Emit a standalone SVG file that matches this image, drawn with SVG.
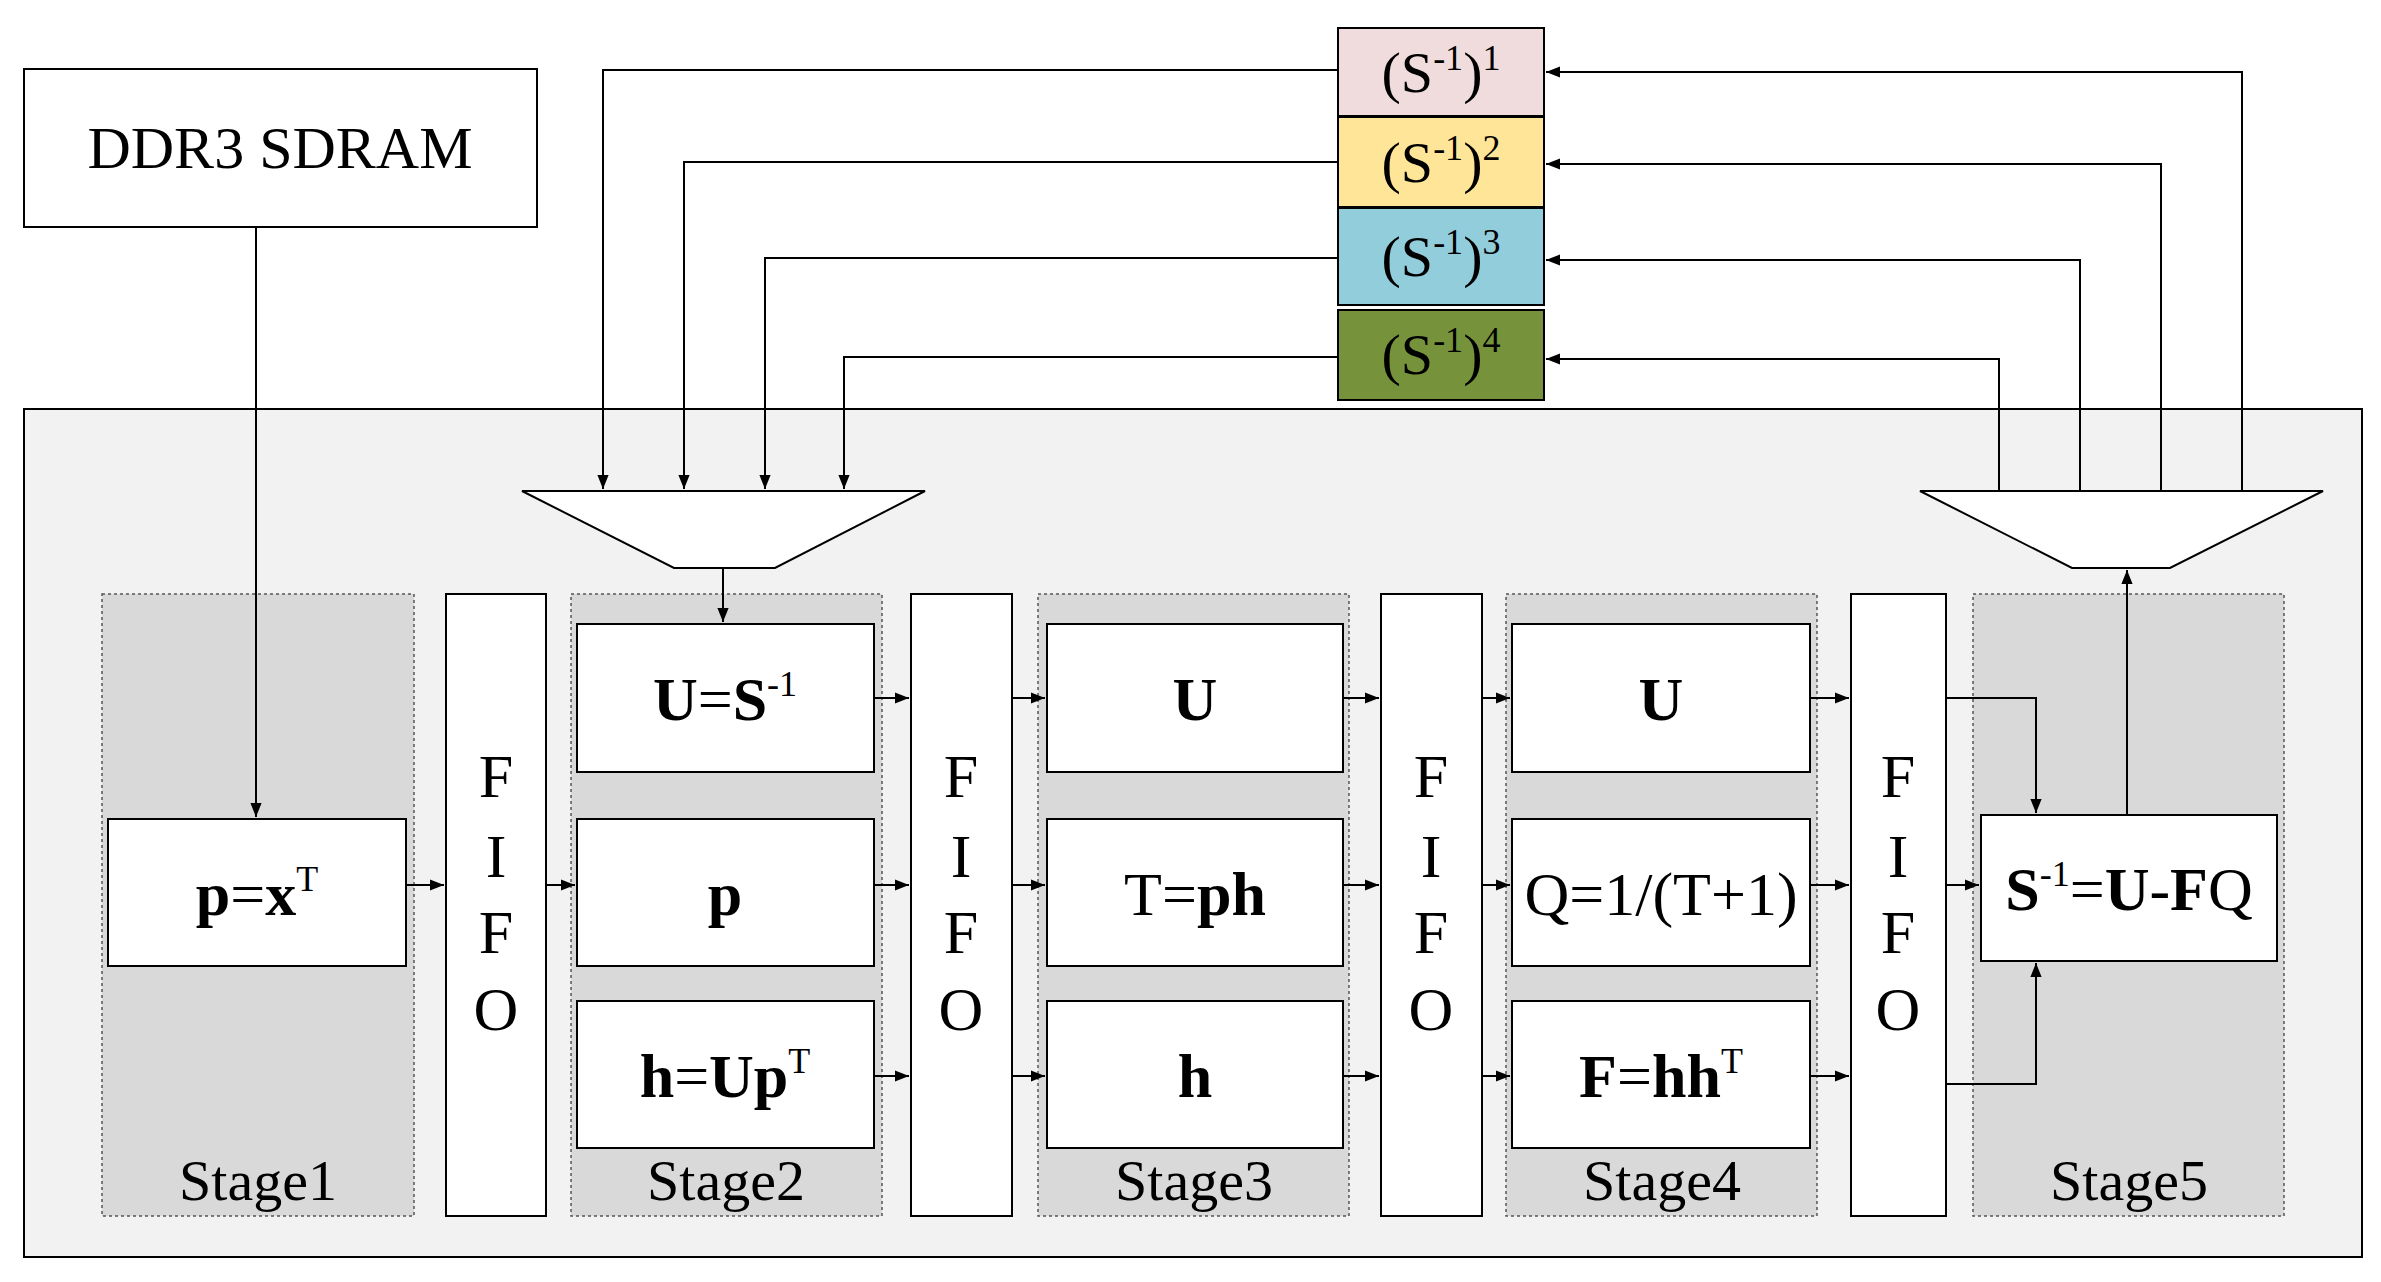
<svg xmlns="http://www.w3.org/2000/svg" width="2381" height="1282" viewBox="0 0 2381 1282">
<defs>
<marker id="a" viewBox="0 0 10 10" refX="10" refY="5" markerWidth="9" markerHeight="9" markerUnits="userSpaceOnUse" orient="auto"><path d="M0,0L10,5L0,10z" fill="#000"/></marker>
<marker id="b" viewBox="0 0 10 10" refX="10" refY="5" markerWidth="14" markerHeight="14" markerUnits="userSpaceOnUse" orient="auto"><path d="M0,1L10,5L0,9z" fill="#000"/></marker>
</defs>
<style>
text{font-family:"Liberation Serif","DejaVu Serif",serif;fill:#000;text-anchor:middle}
.box{fill:#fff;stroke:#000;stroke-width:2}
.stg{fill:#d9d9d9;stroke:#555;stroke-width:1.5;stroke-dasharray:3 3}
.t{font-size:62px}
.b{font-weight:bold}
.c line,.c path{stroke:#000;stroke-width:2;fill:none;marker-end:url(#b)}
</style>
<rect width="2381" height="1282" fill="#fff"/>
<rect x="24" y="409" width="2338" height="848" fill="#f2f2f2" stroke="#000" stroke-width="2"/>
<g id="ddr3"><rect class="box" x="24" y="69" width="513" height="158"/><text x="280" y="168" font-size="60">DDR3 SDRAM</text></g>
<g id="s1"><rect x="1338" y="28" width="206" height="88" fill="#f0dcdc" stroke="#000" stroke-width="2"/><text x="1441" y="92" font-size="58">(S<tspan font-size="36" dy="-22">-1</tspan><tspan dy="22">)</tspan><tspan font-size="36" dy="-22">1</tspan></text></g>
<g id="s2"><rect x="1338" y="117" width="206" height="90" fill="#fee597" stroke="#000" stroke-width="2"/><text x="1441" y="182" font-size="58">(S<tspan font-size="36" dy="-22">-1</tspan><tspan dy="22">)</tspan><tspan font-size="36" dy="-22">2</tspan></text></g>
<g id="s3"><rect x="1338" y="208" width="206" height="97" fill="#92cddb" stroke="#000" stroke-width="2"/><text x="1441" y="276" font-size="58">(S<tspan font-size="36" dy="-22">-1</tspan><tspan dy="22">)</tspan><tspan font-size="36" dy="-22">3</tspan></text></g>
<g id="s4"><rect x="1338" y="310" width="206" height="90" fill="#76933c" stroke="#000" stroke-width="2"/><text x="1441" y="374" font-size="58">(S<tspan font-size="36" dy="-22">-1</tspan><tspan dy="22">)</tspan><tspan font-size="36" dy="-22">4</tspan></text></g>
<g id="mux1"><polygon points="522,491 925,491 775,568 674,568" fill="#fff" stroke="#000" stroke-width="2"/></g>
<g id="mux2"><polygon points="1920,491 2323,491 2170,568 2072,568" fill="#fff" stroke="#000" stroke-width="2"/></g>
<g id="stage1"><rect class="stg" x="102" y="594" width="312" height="622"/><text x="258" y="1200" font-size="58">Stage1</text></g>
<g id="stage2"><rect class="stg" x="571" y="594" width="311" height="622"/><text x="726" y="1200" font-size="58">Stage2</text></g>
<g id="stage3"><rect class="stg" x="1038" y="594" width="311" height="622"/><text x="1194" y="1200" font-size="58">Stage3</text></g>
<g id="stage4"><rect class="stg" x="1506" y="594" width="311" height="622"/><text x="1662" y="1200" font-size="58">Stage4</text></g>
<g id="stage5"><rect class="stg" x="1973" y="594" width="311" height="622"/><text x="2129" y="1200" font-size="58">Stage5</text></g>
<g id="fifo1"><rect class="box" x="446" y="594" width="100" height="622"/><text class="t" x="496"><tspan y="797">F</tspan><tspan x="496" y="877">I</tspan><tspan x="496" y="953">F</tspan><tspan x="496" y="1030">O</tspan></text></g>
<g id="fifo2"><rect class="box" x="911" y="594" width="101" height="622"/><text class="t" x="961"><tspan y="797">F</tspan><tspan x="961" y="877">I</tspan><tspan x="961" y="953">F</tspan><tspan x="961" y="1030">O</tspan></text></g>
<g id="fifo3"><rect class="box" x="1381" y="594" width="101" height="622"/><text class="t" x="1431"><tspan y="797">F</tspan><tspan x="1431" y="877">I</tspan><tspan x="1431" y="953">F</tspan><tspan x="1431" y="1030">O</tspan></text></g>
<g id="fifo4"><rect class="box" x="1851" y="594" width="95" height="622"/><text class="t" x="1898"><tspan y="797">F</tspan><tspan x="1898" y="877">I</tspan><tspan x="1898" y="953">F</tspan><tspan x="1898" y="1030">O</tspan></text></g>
<g id="p1"><rect class="box" x="108" y="819" width="298" height="147"/><text class="t" x="257" y="915"><tspan class="b">p</tspan>=<tspan class="b">x</tspan><tspan font-size="36" dy="-24">T</tspan></text></g>
<g id="u2"><rect class="box" x="577" y="624" width="297" height="148"/><text class="t" x="725" y="720"><tspan class="b">U</tspan>=<tspan class="b">S</tspan><tspan font-size="36" dy="-24">-1</tspan></text></g>
<g id="p2"><rect class="box" x="577" y="819" width="297" height="147"/><text class="t b" x="725" y="915">p</text></g>
<g id="h2"><rect class="box" x="577" y="1001" width="297" height="147"/><text class="t" x="725" y="1097"><tspan class="b">h</tspan>=<tspan class="b">Up</tspan><tspan font-size="36" dy="-24">T</tspan></text></g>
<g id="u3"><rect class="box" x="1047" y="624" width="296" height="148"/><text class="t b" x="1195" y="720">U</text></g>
<g id="t3"><rect class="box" x="1047" y="819" width="296" height="147"/><text class="t" x="1195" y="915">T=<tspan class="b">ph</tspan></text></g>
<g id="h3"><rect class="box" x="1047" y="1001" width="296" height="147"/><text class="t b" x="1195" y="1097">h</text></g>
<g id="u4"><rect class="box" x="1512" y="624" width="298" height="148"/><text class="t b" x="1661" y="720">U</text></g>
<g id="q4"><rect class="box" x="1512" y="819" width="298" height="147"/><text class="t" x="1661" y="915">Q=1/(T+1)</text></g>
<g id="f4"><rect class="box" x="1512" y="1001" width="298" height="147"/><text class="t" x="1661" y="1097"><tspan class="b">F</tspan>=<tspan class="b">hh</tspan><tspan font-size="36" dy="-24">T</tspan></text></g>
<g id="s5"><rect class="box" x="1981" y="815" width="296" height="146"/><text class="t" x="2129" y="910"><tspan class="b">S</tspan><tspan font-size="36" dy="-24">-1</tspan><tspan dy="24">=</tspan><tspan class="b">U</tspan>-<tspan class="b">F</tspan>Q</text></g>
<g id="connectors" class="c">
<path d="M1338,70H603V489"/>
<path d="M1338,162H684V489"/>
<path d="M1338,258H765V489"/>
<path d="M1338,357H844V489"/>
<path d="M2242,491V72H1546"/>
<path d="M2161,491V164H1546"/>
<path d="M2080,491V260H1546"/>
<path d="M1999,491V359H1546"/>
<path d="M256,227V817"/>
<path d="M723,568V622"/>
<path d="M2127,815V570"/>
<path d="M1946,698H2036V813"/>
<path d="M1946,1084H2036V963"/>
<line x1="406" y1="885" x2="444" y2="885"/>
<line x1="546" y1="885" x2="575" y2="885"/>
<line x1="874" y1="698" x2="909" y2="698"/>
<line x1="874" y1="885" x2="909" y2="885"/>
<line x1="874" y1="1076" x2="909" y2="1076"/>
<line x1="1012" y1="698" x2="1045" y2="698"/>
<line x1="1012" y1="885" x2="1045" y2="885"/>
<line x1="1012" y1="1076" x2="1045" y2="1076"/>
<line x1="1343" y1="698" x2="1379" y2="698"/>
<line x1="1343" y1="885" x2="1379" y2="885"/>
<line x1="1343" y1="1076" x2="1379" y2="1076"/>
<line x1="1482" y1="698" x2="1510" y2="698"/>
<line x1="1482" y1="885" x2="1510" y2="885"/>
<line x1="1482" y1="1076" x2="1510" y2="1076"/>
<line x1="1810" y1="698" x2="1849" y2="698"/>
<line x1="1810" y1="885" x2="1849" y2="885"/>
<line x1="1810" y1="1076" x2="1849" y2="1076"/>
<line x1="1946" y1="885" x2="1979" y2="885"/>
</g>
</svg>
